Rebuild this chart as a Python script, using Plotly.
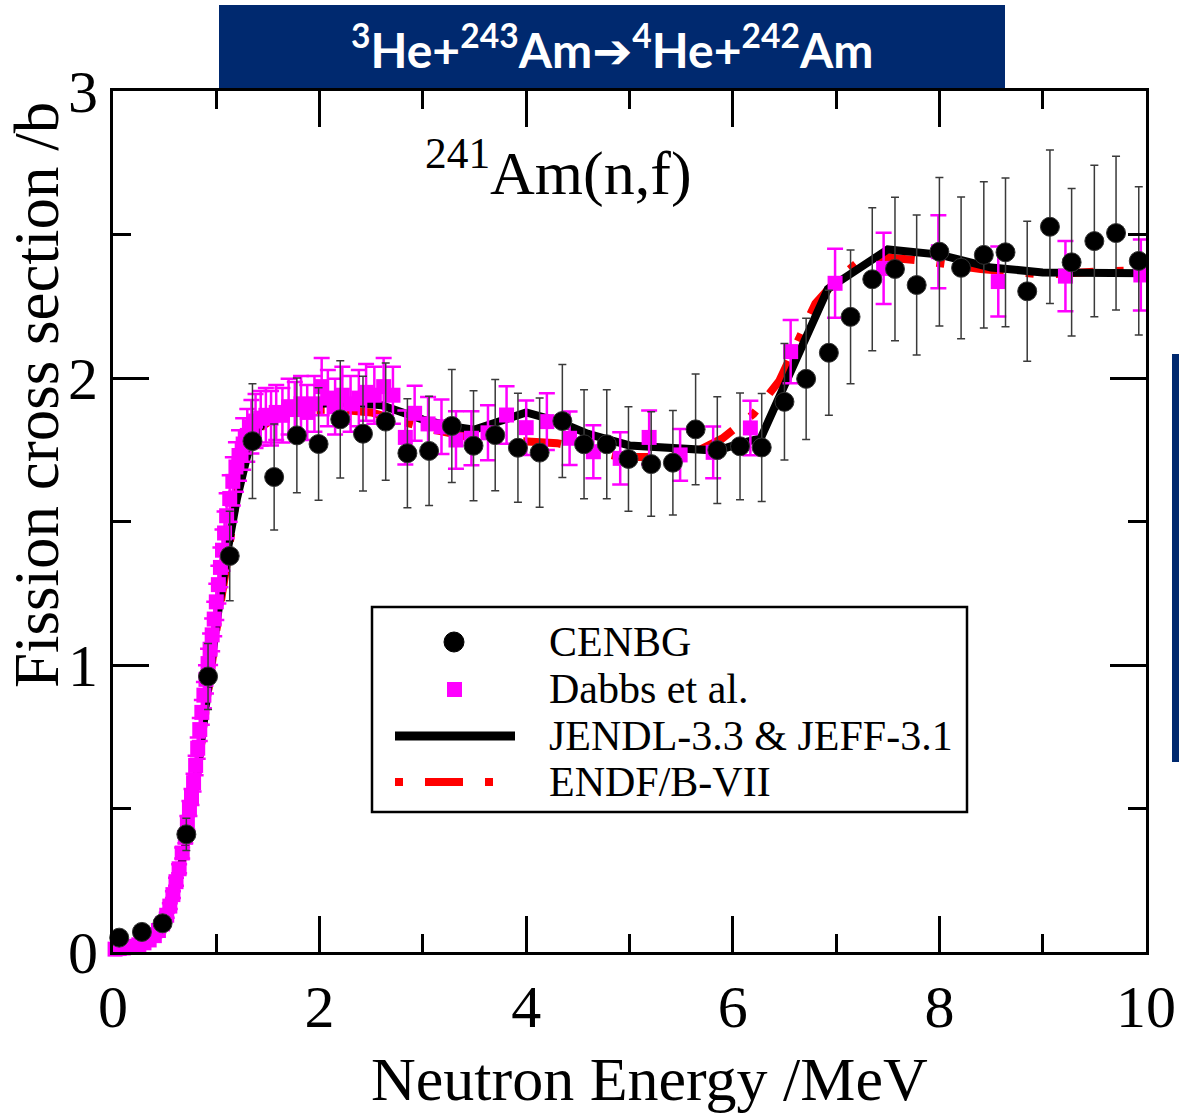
import plotly.graph_objects as go

# ---- CENBG measurement (surrogate 243Am(3He,a) reaction) ----
cenbg_e = [0.06, 0.28, 0.48, 0.71, 0.92, 1.13, 1.35, 1.56, 1.78, 1.99,
           2.20, 2.42, 2.64, 2.85, 3.06, 3.28, 3.49, 3.70, 3.92, 4.13,
           4.35, 4.56, 4.78, 4.99, 5.21, 5.42, 5.64, 5.85, 6.07, 6.28,
           6.50, 6.71, 6.93, 7.14, 7.35, 7.57, 7.78, 8.00, 8.21, 8.43,
           8.64, 8.85, 9.07, 9.28, 9.50, 9.71, 9.93]
cenbg_xs = [0.05, 0.07, 0.10, 0.41, 0.96, 1.38, 1.78, 1.655, 1.80, 1.77,
            1.856, 1.806, 1.848, 1.738, 1.746, 1.833, 1.764, 1.801, 1.757, 1.740,
            1.850, 1.769, 1.769, 1.718, 1.700, 1.705, 1.821, 1.749, 1.762, 1.758,
            1.917, 1.997, 2.088, 2.213, 2.344, 2.380, 2.324, 2.440, 2.384, 2.429,
            2.438, 2.302, 2.527, 2.403, 2.477, 2.505, 2.408]
cenbg_err = [0.010, 0.012, 0.015, 0.056, 0.115, 0.156, 0.200, 0.185, 0.200, 0.196,
             0.204, 0.200, 0.204, 0.190, 0.190, 0.197, 0.192, 0.194, 0.190, 0.190,
             0.197, 0.190, 0.190, 0.182, 0.182, 0.182, 0.193, 0.186, 0.186, 0.188,
             0.203, 0.211, 0.218, 0.233, 0.249, 0.250, 0.244, 0.259, 0.247, 0.255,
             0.259, 0.244, 0.267, 0.257, 0.264, 0.268, 0.258]

# ---- Dabbs et al. direct measurement ----
dabbs_e = [0.02, 0.06, 0.10, 0.15, 0.20, 0.25, 0.30, 0.35, 0.40, 0.44,
           0.48, 0.52, 0.55, 0.58, 0.61, 0.64, 0.67, 0.70, 0.72, 0.74,
           0.76, 0.78, 0.80, 0.82, 0.84, 0.86, 0.88, 0.90, 0.92, 0.94,
           0.96, 0.98, 1.00, 1.02, 1.04, 1.06, 1.08, 1.10, 1.13, 1.16,
           1.19, 1.22, 1.26, 1.30, 1.34, 1.38, 1.43, 1.48, 1.53, 1.58,
           1.64, 1.70, 1.76, 1.82, 1.88, 1.95, 2.02, 2.08, 2.15, 2.22,
           2.30, 2.38, 2.45, 2.53, 2.62, 2.71, 2.83, 2.92, 3.05, 3.18,
           3.32, 3.47, 3.63, 3.81, 4.00, 4.20, 4.42, 4.65, 4.91, 5.19,
           5.49, 5.81, 6.17, 6.56, 6.99, 7.46, 7.99, 8.57, 9.22, 9.95]
dabbs_xs = [0.010, 0.012, 0.014, 0.017, 0.020, 0.025, 0.032, 0.042, 0.057, 0.075,
            0.098, 0.128, 0.160, 0.200, 0.245, 0.290, 0.345, 0.400, 0.450, 0.500,
            0.540, 0.590, 0.650, 0.710, 0.775, 0.835, 0.895, 0.950, 1.005, 1.055,
            1.105, 1.160, 1.220, 1.280, 1.340, 1.400, 1.460, 1.520, 1.580, 1.640,
            1.690, 1.730, 1.770, 1.800, 1.830, 1.850, 1.860, 1.870, 1.860, 1.880,
            1.870, 1.900, 1.890, 1.910, 1.880, 1.910, 1.970, 1.930, 1.900, 1.940,
            1.910, 1.930, 1.950, 1.940, 1.970, 1.940, 1.793, 1.877, 1.840, 1.830,
            1.784, 1.790, 1.809, 1.871, 1.827, 1.848, 1.790, 1.743, 1.720, 1.793,
            1.732, 1.741, 1.826, 2.092, 2.330, 2.382, 2.440, 2.336, 2.355, 2.359]
dabbs_err = [0.004, 0.004, 0.004, 0.004, 0.004, 0.004, 0.005, 0.005, 0.006, 0.006,
             0.008, 0.009, 0.010, 0.012, 0.014, 0.016, 0.019, 0.021, 0.024, 0.026,
             0.028, 0.031, 0.034, 0.037, 0.040, 0.043, 0.046, 0.049, 0.052, 0.055,
             0.057, 0.060, 0.063, 0.066, 0.069, 0.072, 0.075, 0.078, 0.081, 0.084,
             0.086, 0.088, 0.090, 0.092, 0.093, 0.094, 0.095, 0.095, 0.095, 0.096,
             0.095, 0.097, 0.096, 0.097, 0.096, 0.097, 0.100, 0.098, 0.097, 0.099,
             0.097, 0.098, 0.099, 0.099, 0.100, 0.099, 0.094, 0.096, 0.094, 0.095,
             0.100, 0.094, 0.096, 0.100, 0.095, 0.099, 0.093, 0.092, 0.091, 0.094,
             0.090, 0.090, 0.095, 0.110, 0.120, 0.124, 0.127, 0.122, 0.122, 0.124]

# ---- Evaluated data: JENDL-3.3 & JEFF-3.1 ----
jendl_e = [0.0, 0.2, 0.4, 0.5, 0.6, 0.7, 0.8, 0.9, 1.0, 1.1, 1.2, 1.3, 1.4,
           1.5, 1.7, 2.0, 2.3, 2.6, 2.8, 3.0, 3.3, 3.5, 3.75, 4.0, 4.3, 4.6,
           5.0, 5.5, 5.85, 6.07, 6.27, 6.92, 7.5, 8.0, 8.5, 9.0, 10.0]
jendl_xs = [0.0, 0.012, 0.05, 0.10, 0.20, 0.37, 0.58, 0.87, 1.14, 1.38, 1.58, 1.73, 1.82,
            1.86, 1.89, 1.91, 1.915, 1.905, 1.88, 1.855, 1.83, 1.82, 1.85, 1.88, 1.85, 1.805,
            1.765, 1.755, 1.747, 1.772, 1.79, 2.31, 2.448, 2.43, 2.385, 2.368, 2.365]

# ---- Evaluated data: ENDF/B-VII ----
endf_e = [0.0, 0.2, 0.4, 0.5, 0.6, 0.7, 0.8, 0.9, 1.0, 1.1, 1.2, 1.3, 1.4,
          1.6, 1.8, 2.2, 2.5, 2.8, 3.1, 3.5, 4.0, 4.3, 4.6, 4.9, 5.4, 5.6,
          5.9, 6.2, 6.45, 6.8, 7.0, 7.2, 7.5, 7.8, 8.4, 9.0, 9.5, 10.0]
endf_xs = [0.0, 0.012, 0.05, 0.10, 0.20, 0.37, 0.58, 0.86, 1.12, 1.35, 1.60, 1.74, 1.82,
           1.87, 1.888, 1.89, 1.88, 1.848, 1.82, 1.79, 1.78, 1.773, 1.75, 1.725, 1.725, 1.735,
           1.79, 1.875, 1.99, 2.26, 2.34, 2.40, 2.42, 2.41, 2.38, 2.36, 2.37, 2.376]

# axis ticks
x_ticks = [0, 2, 4, 6, 8, 10]
y_ticks = [0, 1, 2, 3]

NAVY = "#00296F"
SERIF = "Liberation Serif, Times New Roman, serif"

# plot-area geometry in pixels, used to place decorations in paper units
W, H = 1179, 1116
L, R, T, B = 113, 33, 91, 164
PW, PH = W - L - R, H - T - B


def px(xp):
    return (xp - L) / PW


def py(yp):
    return (H - B - yp) / PH


fig = go.Figure()

fig.add_trace(go.Scatter(
    x=endf_e, y=endf_xs, mode="lines", name="ENDF/B-VII", showlegend=False,
    line=dict(color="#FF0000", width=8, dash="8px,22px,38px,22px")))
fig.add_trace(go.Scatter(
    x=jendl_e, y=jendl_xs, mode="lines", name="JENDL-3.3 & JEFF-3.1", showlegend=False,
    line=dict(color="black", width=8)))
fig.add_trace(go.Scatter(
    x=dabbs_e, y=dabbs_xs, mode="markers", name="Dabbs et al.", showlegend=False,
    cliponaxis=False,
    marker=dict(symbol="square", size=15, color="#FF00FF"),
    error_y=dict(type="data", array=dabbs_err, color="#FF00FF", thickness=2.5, width=8)))
fig.add_trace(go.Scatter(
    x=cenbg_e, y=cenbg_xs, mode="markers", name="CENBG", showlegend=False,
    cliponaxis=False,
    marker=dict(symbol="circle", size=19, color="black", line=dict(color="#333333", width=1)),
    error_y=dict(type="data", array=cenbg_err, color="#3a3a3a", thickness=1.5, width=4)))

axis_common = dict(
    showline=True, linecolor="black", linewidth=3, mirror="allticks",
    ticks="inside", tickwidth=2.5, tickcolor="black",
    showgrid=False, zeroline=False,
    tickfont=dict(family=SERIF, size=60, color="black"),
    automargin=False,
)

fig.update_xaxes(
    range=[0, 10], tickvals=x_ticks, ticktext=[str(v) for v in x_ticks], ticklen=36,
    minor=dict(dtick=1, tick0=0, ticks="inside", ticklen=18, tickwidth=2.5, tickcolor="black"),
    **axis_common)
fig.update_yaxes(
    range=[0, 3], tickvals=y_ticks, ticktext=[str(v) for v in y_ticks], ticklen=36,
    minor=dict(dtick=0.5, tick0=0, ticks="inside", ticklen=18, tickwidth=2.5, tickcolor="black"),
    **axis_common)

shapes = [
    # reaction banner
    dict(type="rect", xref="paper", yref="paper", x0=px(219), x1=px(1005),
         y0=py(88), y1=py(5), fillcolor=NAVY, line=dict(width=0), layer="above"),
    # side bar
    dict(type="rect", xref="paper", yref="paper", x0=px(1172), x1=px(1185),
         y0=py(762), y1=py(354), fillcolor=NAVY, line=dict(width=0), layer="above"),
    # legend frame
    dict(type="rect", xref="paper", yref="paper", x0=px(372), x1=px(967),
         y0=py(812), y1=py(607), fillcolor="white", line=dict(color="black", width=2.5),
         layer="above"),
    # legend symbols
    dict(type="circle", xref="paper", yref="paper", x0=px(444), x1=px(464),
         y0=py(652), y1=py(632), fillcolor="black", line=dict(color="black", width=1),
         layer="above"),
    dict(type="rect", xref="paper", yref="paper", x0=px(447), x1=px(462),
         y0=py(697), y1=py(682), fillcolor="#FF00FF", line=dict(width=0), layer="above"),
    dict(type="line", xref="paper", yref="paper", x0=px(395), x1=px(515),
         y0=py(736), y1=py(736), line=dict(color="black", width=9), layer="above"),
    dict(type="line", xref="paper", yref="paper", x0=px(395), x1=px(497),
         y0=py(782), y1=py(782), line=dict(color="#FF0000", width=8, dash="8px,22px,38px,22px"),
         layer="above"),
]

legend_rows = [("CENBG", 642), ("Dabbs et al.", 689), ("JENDL-3.3 & JEFF-3.1", 736),
               ("ENDF/B-VII", 782)]
annotations = [
    dict(text=lbl, xref="paper", yref="paper", x=px(547), y=py(yc), xanchor="left",
         yanchor="middle", showarrow=False, font=dict(family=SERIF, size=42, color="black"))
    for lbl, yc in legend_rows
]
# reaction banner text
annotations.append(dict(
    text="<b><sup>3</sup>He+<sup>243</sup>Am\u2794<sup>4</sup>He+<sup>242</sup>Am</b>",
    xref="paper", yref="paper", x=px(612), y=py(47), xanchor="center", yanchor="middle",
    showarrow=False, font=dict(family="Lato, DejaVu Sans, sans-serif", size=48, color="white")))
# reaction label inside the plot
annotations.append(dict(
    text="<sup>241</sup>Am(n,f)", xref="paper", yref="paper", x=px(423), y=py(168),
    xanchor="left", yanchor="middle", showarrow=False,
    font=dict(family=SERIF, size=62, color="black")))
# axis titles
annotations.append(dict(
    text="Neutron Energy /MeV", xref="paper", yref="paper", x=px(649), y=py(1079),
    xanchor="center", yanchor="middle", showarrow=False,
    font=dict(family=SERIF, size=62, color="black")))
annotations.append(dict(
    text="Fission cross section /b", xref="paper", yref="paper", x=px(37), y=py(395),
    xanchor="center", yanchor="middle", textangle=-90, showarrow=False,
    font=dict(family=SERIF, size=63, color="black")))

fig.update_layout(
    width=W, height=H,
    margin=dict(l=L, r=R, t=T, b=B, pad=0),
    paper_bgcolor="white", plot_bgcolor="white",
    showlegend=False,
    shapes=shapes, annotations=annotations,
)

fig.write_html("out.html")
